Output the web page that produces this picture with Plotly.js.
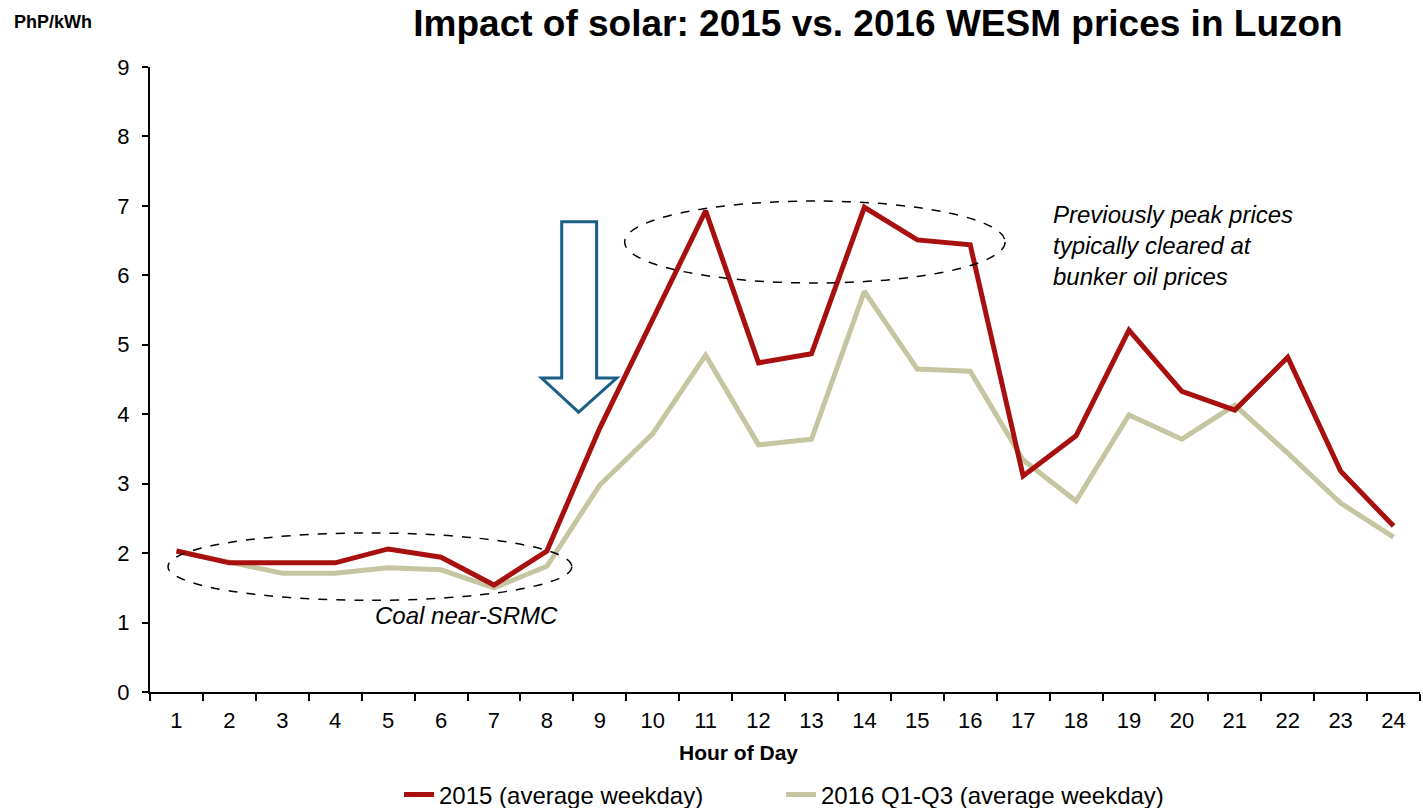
<!DOCTYPE html>
<html>
<head>
<meta charset="utf-8">
<script src="https://cdn.plot.ly/plotly-3.0.1.min.js"></script>
<style>html,body{margin:0;padding:0;background:#fff;}#chart{width:1423px;height:808px;}</style>
</head>
<body>
<div id="chart"></div>
<script>
const hours = ["1","2","3","4","5","6","7","8","9","10","11","12","13","14","15","16","17","18","19","20","21","22","23","24"];
const prices2015 = [2.03,1.86,1.86,1.86,2.06,1.94,1.54,2.03,3.80,5.37,6.93,4.74,4.87,6.98,6.51,6.44,3.11,3.69,5.21,4.33,4.06,4.82,3.18,2.39];
const prices2016 = [2.03,1.87,1.71,1.71,1.79,1.76,1.50,1.81,2.98,3.72,4.85,3.56,3.64,5.77,4.65,4.62,3.34,2.75,3.99,3.64,4.13,3.44,2.72,2.23];
const seriesNames = ["2015 (average weekday)", "2016 Q1-Q3 (average weekday)"];
const yTicks = [0,1,2,3,4,5,6,7,8,9];

const FONT = "Arial, 'Liberation Sans', sans-serif";

const data = [
  {x: hours, y: prices2016, type: "scatter", mode: "lines", name: seriesNames[1],
   line: {color: "#C5C5A1", width: 5}, legendrank: 2},
  {x: hours, y: prices2015, type: "scatter", mode: "lines", name: seriesNames[0],
   line: {color: "#A8100F", width: 5}, legendrank: 1}
];

const layout = {
  width: 1423, height: 808,
  margin: {l: 150, r: 3, t: 67, b: 116, autoexpand: false},
  paper_bgcolor: "#fff", plot_bgcolor: "#fff",
  font: {family: FONT, color: "#000"},
  showlegend: true,
  title: {text: "<b>Impact of solar: 2015 vs. 2016 WESM prices in Luzon</b>",
          x: 878/1423, xanchor: "center", xref: "container",
          y: 1 - 23/808, yanchor: "middle", yref: "container",
          font: {size: 37, family: FONT, color: "#000"}},
  xaxis: {type: "category", tickson: "boundaries", ticks: "outside", ticklen: 7, tickwidth: 2,
          tickcolor: "#000", showline: true, linecolor: "#000", linewidth: 2, showgrid: false,
          zeroline: false, tickfont: {size: 22, family: FONT}, ticklabelstandoff: 8,
          range: [-0.5, 23.5], fixedrange: true},
  yaxis: {range: [0, 9], tickvals: yTicks, ticks: "outside", ticklen: 6, tickwidth: 2,
          tickcolor: "#000", showline: true, linecolor: "#000", linewidth: 2, showgrid: false,
          zeroline: false, tickfont: {size: 22, family: FONT}, ticklabelstandoff: 8, fixedrange: true},
  legend: {orientation: "h", traceorder: "normal", x: (781-150)/1270, xanchor: "center",
           y: (692-795)/625, yanchor: "middle", entrywidth: 337,
           font: {size: 24, family: FONT}, bgcolor: "rgba(0,0,0,0)"},
  annotations: [
    {text: "<b>PhP/kWh</b>", xref: "paper", yref: "paper", x: (12-150)/1270, y: (692-22)/625,
     xanchor: "left", yanchor: "middle", showarrow: false, font: {size: 18, family: FONT}},
    {text: "<b>Hour of Day</b>", xref: "paper", yref: "paper", x: (738-150)/1270, y: (692-752)/625,
     xanchor: "center", yanchor: "middle", showarrow: false, font: {size: 21, family: FONT}},
    {text: "<i>Coal near-SRMC</i>", xref: "paper", yref: "paper", x: (466-150)/1270, y: (692-615)/625,
     xanchor: "center", yanchor: "middle", showarrow: false, font: {size: 24, family: FONT}},
    {text: "<i>Previously peak prices<br>typically cleared at<br>bunker oil prices</i>", xref: "paper", yref: "paper",
     x: (1051-150)/1270, y: (692-245)/625, xanchor: "left", yanchor: "middle", align: "left",
     showarrow: false, font: {size: 24, family: FONT}}
  ],
  shapes: [
    {type: "circle", xref: "x", yref: "y", x0: -0.16, x1: 7.47, y0: 1.32, y1: 2.29,
     line: {color: "#000", width: 1.5, dash: "dash"}, fillcolor: "rgba(0,0,0,0)", layer: "above"},
    {type: "circle", xref: "x", yref: "y", x0: 8.47, x1: 15.66, y0: 5.89, y1: 7.07,
     line: {color: "#000", width: 1.5, dash: "dash"}, fillcolor: "rgba(0,0,0,0)", layer: "above"},
    {type: "path", xref: "x", yref: "y",
     path: "M 7.28 6.77 L 7.94 6.77 L 7.94 4.52 L 8.32 4.52 L 7.60 4.03 L 6.90 4.52 L 7.28 4.52 Z",
     line: {color: "#1B5E86", width: 3}, fillcolor: "#fff", layer: "above"}
  ]
};

Plotly.newPlot("chart", data, layout, {displayModeBar: false, staticPlot: true});
</script>
</body>
</html>
